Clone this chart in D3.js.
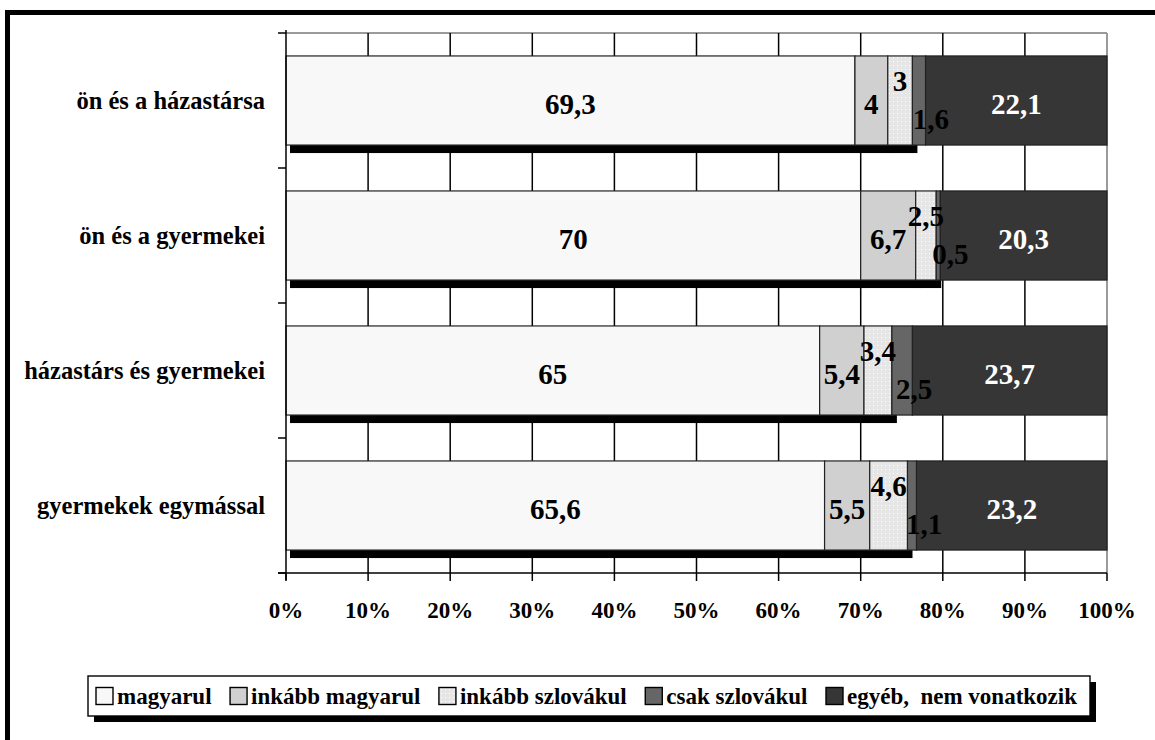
<!DOCTYPE html>
<html><head><meta charset="utf-8">
<script src="https://cdn.jsdelivr.net/npm/d3@7"></script>
<style>body{margin:0;background:#fff}</style>
</head><body>
<svg id="c" width="1155" height="740"></svg>
<script>
const categories = ["ön és a házastársa","ön és a gyermekei","házastárs és gyermekei","gyermekek egymással"];
const seriesNames = ["magyarul","inkább magyarul","inkább szlovákul","csak szlovákul","egyéb,  nem vonatkozik"];
const magyarul        = [69.3, 70,  65,  65.6];
const inkabbMagyarul  = [4,    6.7, 5.4, 5.5];
const inkabbSzlovakul = [3,    2.5, 3.4, 4.6];
const csakSzlovakul   = [1.6,  0.5, 2.5, 1.1];
const egyeb           = [22.1, 20.3,23.7,23.2];
const xTicks = [0,10,20,30,40,50,60,70,80,90,100];
const xTickLabels = ["0%","10%","20%","30%","40%","50%","60%","70%","80%","90%","100%"];

const seriesValues = [magyarul, inkabbMagyarul, inkabbSzlovakul, csakSzlovakul, egyeb];
const fills = ["#f8f8f8","#d0d0d0","url(#dots)","#666666","#363636"];
const labelColors = ["#000","#000","#000","#000","#fff"];
const labelDy = [3, 3, -20, 18, 3];
const labelDx = [0, 0, 0, 12, 0];
const FONT = "Liberation Serif";

const svg = d3.select("#c").attr("font-family",FONT).attr("font-weight","bold");
const defs = svg.append("defs");
const pat = defs.append("pattern").attr("id","dots").attr("patternUnits","userSpaceOnUse")
  .attr("width",4).attr("height",4);
pat.append("rect").attr("width",4).attr("height",4).attr("fill","#e6e6e6");
pat.append("rect").attr("x",1).attr("y",1).attr("width",1).attr("height",1).attr("fill","#ffffff");

// outer frame
svg.append("path").attr("d","M7.5,745 L7.5,12.5 L1160,12.5").attr("fill","none")
  .attr("stroke","#000").attr("stroke-width",5);

const pL = 286, pR = 1107, pT = 33, pB = 573;
const x = d3.scaleLinear().domain([0,100]).range([pL,pR]);
const y = d3.scaleBand().domain(categories).range([pT,pB]).paddingInner(0.34).paddingOuter(0.17);

const rows = categories.map((c,i)=>{
  const o = {cat:c};
  seriesValues.forEach((s,k)=>o["s"+k]=s[i]);
  return o;
});
const stack = d3.stack().keys(seriesValues.map((s,k)=>"s"+k))(rows);

// gridlines
svg.append("line").attr("x1",pL).attr("x2",pR).attr("y1",pT).attr("y2",pT)
  .attr("stroke","#9a9a9a").attr("stroke-width",2);
svg.append("line").attr("x1",pR).attr("x2",pR).attr("y1",pT).attr("y2",pB)
  .attr("stroke","#9a9a9a").attr("stroke-width",2);
svg.append("g").selectAll("line").data(xTicks.slice(1,-1)).join("line")
  .attr("x1",d=>x(d)).attr("x2",d=>x(d)).attr("y1",pT).attr("y2",pB)
  .attr("stroke","#000").attr("stroke-width",1.5);

// shadows for first three series
stack.slice(0,3).forEach(layer=>{
  svg.append("g").selectAll("rect").data(layer).join("rect")
    .attr("x",d=>x(d[0])+4).attr("width",d=>x(d[1])-x(d[0])+1)
    .attr("y",d=>y(d.data.cat)+8).attr("height",y.bandwidth())
    .attr("fill","#000");
});

// bars
stack.forEach((layer,k)=>{
  svg.append("g").selectAll("rect").data(layer).join("rect")
    .attr("x",d=>x(d[0])).attr("width",d=>x(d[1])-x(d[0]))
    .attr("y",d=>y(d.data.cat)).attr("height",y.bandwidth())
    .attr("fill",fills[k]).attr("stroke","#222").attr("stroke-width",1.2);
});

// labels
const fmt = v => String(v).replace(".",",");
stack.forEach((layer,k)=>{
  svg.append("g").selectAll("text").data(layer).join("text")
    .attr("x",d=>(x(d[0])+x(d[1]))/2 + labelDx[k])
    .attr("y",d=>y(d.data.cat)+y.bandwidth()/2 + labelDy[k])
    .attr("text-anchor","middle").attr("dominant-baseline","central")
    .attr("font-size",29).attr("fill",labelColors[k])
    .text(d=>fmt(d.data["s"+k]));
});

// left axis
const yEdges = d3.range(categories.length+1).map(i=> i<categories.length ? y(categories[i]) - y.step()*y.paddingInner()/2 : pB);
yEdges[0] = pT;
svg.append("line").attr("x1",pL).attr("x2",pL).attr("y1",pT-3).attr("y2",pB+7)
  .attr("stroke","#000").attr("stroke-width",1.5);
svg.append("g").selectAll("line").data(yEdges).join("line")
  .attr("x1",pL-8).attr("x2",pL).attr("y1",d=>d).attr("y2",d=>d)
  .attr("stroke","#000").attr("stroke-width",1.5);
svg.append("g").selectAll("text").data(categories).join("text")
  .attr("x",265).attr("y",d=>y(d)+y.bandwidth()/2)
  .attr("text-anchor","end").attr("dominant-baseline","central")
  .attr("font-size",24.5).text(d=>d);

// bottom axis
svg.append("line").attr("x1",pL-8).attr("x2",pR).attr("y1",pB).attr("y2",pB)
  .attr("stroke","#000").attr("stroke-width",1.5);
svg.append("g").selectAll("line").data(xTicks).join("line")
  .attr("x1",d=>x(d)).attr("x2",d=>x(d)).attr("y1",pB).attr("y2",pB+8)
  .attr("stroke","#000").attr("stroke-width",1.5);
svg.append("g").selectAll("text").data(xTicks).join("text")
  .attr("x",d=>x(d)).attr("y",610).attr("text-anchor","middle").attr("dominant-baseline","central")
  .attr("font-size",23).text((d,i)=>xTickLabels[i]);

// legend
const lgStart = 96, lgEnd = 1077, lgY = 696;
const lg = svg.append("g");
const lgShadow = lg.append("rect");
const lgBox = lg.append("rect");
const items = seriesNames.map((n,k)=>{
  const g = lg.append("g");
  const sw = g.append("rect").attr("y",lgY-8.5).attr("width",17).attr("height",17)
    .attr("fill",fills[k]).attr("stroke","#000").attr("stroke-width",1.4);
  const t = g.append("text").attr("y",lgY).attr("dominant-baseline","central")
    .attr("font-size",23).attr("xml:space","preserve").style("white-space","pre").text(n);
  return {sw, t, w: t.node().getComputedTextLength()};
});
const used = d3.sum(items, d=>17+4+d.w);
const gap = (lgEnd - lgStart - used)/(items.length-1);
let cx = lgStart;
items.forEach(it=>{
  it.sw.attr("x",cx);
  it.t.attr("x",cx+21);
  cx += 21 + it.w + gap;
});
const bx = lgStart - 8, bw = lgEnd - lgStart + 21;
lgShadow.attr("x",bx+6).attr("y",lgY-20+6).attr("width",bw).attr("height",40).attr("fill","#000");
lgBox.attr("x",bx).attr("y",lgY-20).attr("width",bw).attr("height",40)
  .attr("fill","#fff").attr("stroke","#000").attr("stroke-width",1.4);
</script>
</body></html>
